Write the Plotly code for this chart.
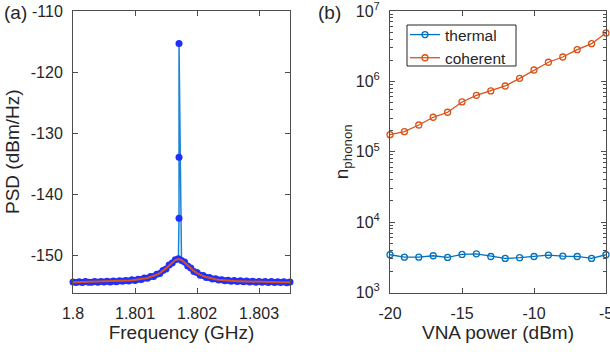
import numpy as np
import plotly.graph_objects as go

# ---------- Panel (a) data ----------
freq_ghz = list(np.round(1.8 + 0.00005 * np.arange(71), 5))
psd_fit = [-154.32, -154.31, -154.31, -154.30, -154.29, -154.29, -154.28, -154.27, -154.26, -154.25,
           -154.24, -154.23, -154.21, -154.19, -154.17, -154.15, -154.12, -154.09, -154.05, -154.01,
           -153.96, -153.90, -153.82, -153.73, -153.62, -153.48, -153.31, -153.09, -152.82, -152.48,
           -152.06, -151.58, -151.09, -150.70, -150.55, -150.70, -151.09, -151.58, -152.06, -152.48,
           -152.82, -153.09, -153.31, -153.48, -153.62, -153.73, -153.82, -153.90, -153.96, -154.01,
           -154.05, -154.09, -154.12, -154.15, -154.17, -154.19, -154.21, -154.23, -154.24, -154.25,
           -154.26, -154.27, -154.28, -154.29, -154.29, -154.30, -154.31, -154.31, -154.32, -154.32,
           -154.33]
psd_meas = [-154.27, -154.38, -154.25, -154.36, -154.22, -154.34, -154.31, -154.20, -154.33, -154.19,
            -154.30, -154.16, -154.27, -154.12, -154.23, -154.08, -154.18, -154.02, -154.11, -153.93,
            -154.02, -153.83, -153.88, -153.64, -153.69, -153.39, -153.37, -153.00, -152.90, -152.40,
            -152.14, -151.50, -151.16, -150.63, -150.50, -150.78, -151.01, -151.66, -151.98, -152.56,
            -152.74, -153.17, -153.24, -153.56, -153.55, -153.81, -153.75, -153.97, -153.90, -154.08,
            -153.98, -154.16, -154.05, -154.22, -154.10, -154.26, -154.14, -154.30, -154.17, -154.32,
            -154.20, -154.34, -154.21, -154.36, -154.22, -154.37, -154.24, -154.38, -154.25, -154.39,
            -154.27]
spike_freq = [1.80171, 1.80171, 1.80171]
spike_psd = [-143.85, -133.9, -115.3]
spike_index = 35  # inserted after the peak bin

meas_x = freq_ghz[:spike_index] + spike_freq + freq_ghz[spike_index:]
meas_y = psd_meas[:spike_index] + spike_psd + psd_meas[spike_index:]

# ---------- Panel (b) data ----------
vna_power = [-20, -19, -18, -17, -16, -15, -14, -13, -12, -11, -10, -9, -8, -7, -6, -5]
n_thermal = [3440, 3180, 3180, 3330, 3150, 3470, 3550, 3250, 3050, 3120, 3250, 3400, 3290, 3250, 3050, 3440]
n_coherent = [1.75e5, 1.93e5, 2.40e5, 3.09e5, 3.64e5, 5.10e5, 6.34e5, 7.31e5, 8.60e5, 1.105e6,
              1.45e6, 1.87e6, 2.22e6, 2.82e6, 3.43e6, 4.87e6]
log_major = [1e3, 1e4, 1e5, 1e6, 1e7]
log_minor = [m * d for d in [1e3, 1e4, 1e5, 1e6] for m in range(2, 10)]

FONT = "Liberation Sans, Arial, sans-serif"
TXT = "#262626"
AX = "#4d4d4d"
TICK = 16
TITLE = 19

fig = go.Figure()

fig.add_trace(go.Scatter(
    x=meas_x, y=meas_y, mode="lines+markers",
    line=dict(color="#1a85d6", width=1.5),
    marker=dict(color="#1f2fff", size=7, line=dict(width=0)),
    xaxis="x", yaxis="y", showlegend=False, cliponaxis=False))
fig.add_trace(go.Scatter(
    x=freq_ghz, y=psd_fit, mode="lines",
    line=dict(color="#D95319", width=2),
    xaxis="x", yaxis="y", showlegend=False))

fig.add_trace(go.Scatter(
    x=vna_power, y=n_thermal, mode="lines+markers", name="thermal",
    line=dict(color="#0072BD", width=1.3),
    marker=dict(symbol="circle-open", color="#0072BD", size=6, line=dict(width=1.3)),
    xaxis="x2", yaxis="y2", cliponaxis=False))
fig.add_trace(go.Scatter(
    x=vna_power, y=n_coherent, mode="lines+markers", name="coherent",
    line=dict(color="#D95319", width=1.3),
    marker=dict(symbol="circle-open", color="#D95319", size=6, line=dict(width=1.3)),
    xaxis="x2", yaxis="y2", cliponaxis=False))

ydom = [1 - 292.5 / 352, 1 - 11 / 352]
common = dict(showgrid=False, zeroline=False, showline=True, linecolor=AX, linewidth=1,
              mirror="allticks", ticks="inside", ticklen=5, tickcolor=AX, automargin=False,
              ticklabeloverflow="allow", ticklabelstandoff=6,
              tickfont=dict(family=FONT, size=TICK, color=TXT))

fig.update_layout(
    width=610, height=352,
    margin=dict(l=0, r=0, t=0, b=0),
    paper_bgcolor="white", plot_bgcolor="white",
    font=dict(family=FONT, color=TXT),
    xaxis=dict(domain=[73 / 610, 290 / 610], range=[1.8, 1.8035],
               tickvals=[1.8, 1.801, 1.802, 1.803], ticktext=["1.8", "1.801", "1.802", "1.803"],
               title=dict(text="Frequency (GHz)", font=dict(family=FONT, size=TITLE, color=TXT), standoff=2),
               anchor="y", **common),
    yaxis=dict(domain=ydom, range=[-156, -110], tickvals=[-150, -140, -130, -120, -110],
               ticktext=["-150", "-140", "-130", "-120", "-110"],
               title=dict(text="PSD (dBm/Hz)", font=dict(family=FONT, size=TITLE, color=TXT), standoff=6),
               anchor="x", **common),
    xaxis2=dict(domain=[390 / 610, 606 / 610], range=[-20, -5], tickvals=[-20, -15, -10, -5],
                ticktext=["-20", "-15", "-10", "-5"],
                title=dict(text="VNA power (dBm)", font=dict(family=FONT, size=TITLE, color=TXT), standoff=2),
                anchor="y2", **common),
    yaxis2=dict(domain=ydom, type="log", range=[3, 7],
                tickvals=log_major,
                ticktext=["10<sup>3</sup>", "10<sup>4</sup>", "10<sup>5</sup>", "10<sup>6</sup>", "10<sup>7</sup>"],
                minor=dict(tickvals=log_minor, ticks="inside", ticklen=3, tickcolor=AX, showgrid=False),
                title=dict(text="n<sub>phonon</sub>", font=dict(family=FONT, size=TITLE, color=TXT), standoff=2),
                anchor="x2", **common),
    legend=dict(x=405 / 610, y=1 - 18 / 352, xanchor="left", yanchor="top",
                bgcolor="rgba(0,0,0,0)", borderwidth=0,
                font=dict(family=FONT, size=15.5, color=TXT), itemwidth=30, tracegroupgap=0),
    shapes=[dict(type="rect", xref="x2 domain", yref="y2 domain",
                 x0=(407 - 390) / 216, x1=(516 - 390) / 216,
                 y0=1 - (66 - 11) / 281.5, y1=1 - (25 - 11) / 281.5,
                 line=dict(color=TXT, width=1), fillcolor="rgba(0,0,0,0)", layer="above")],
    annotations=[
        dict(text="(a)", x=2 / 610, y=1 - 0 / 352, xref="paper", yref="paper", xanchor="left", yanchor="top",
             showarrow=False, font=dict(family=FONT, size=TITLE, color=TXT)),
        dict(text="(b)", x=316 / 610, y=1 - 0 / 352, xref="paper", yref="paper", xanchor="left", yanchor="top",
             showarrow=False, font=dict(family=FONT, size=TITLE, color=TXT)),
    ],
)

fig.write_html("out.html", config={"displayModeBar": False},
               post_script="document.body.style.margin='0px';document.body.style.overflow='hidden';")
